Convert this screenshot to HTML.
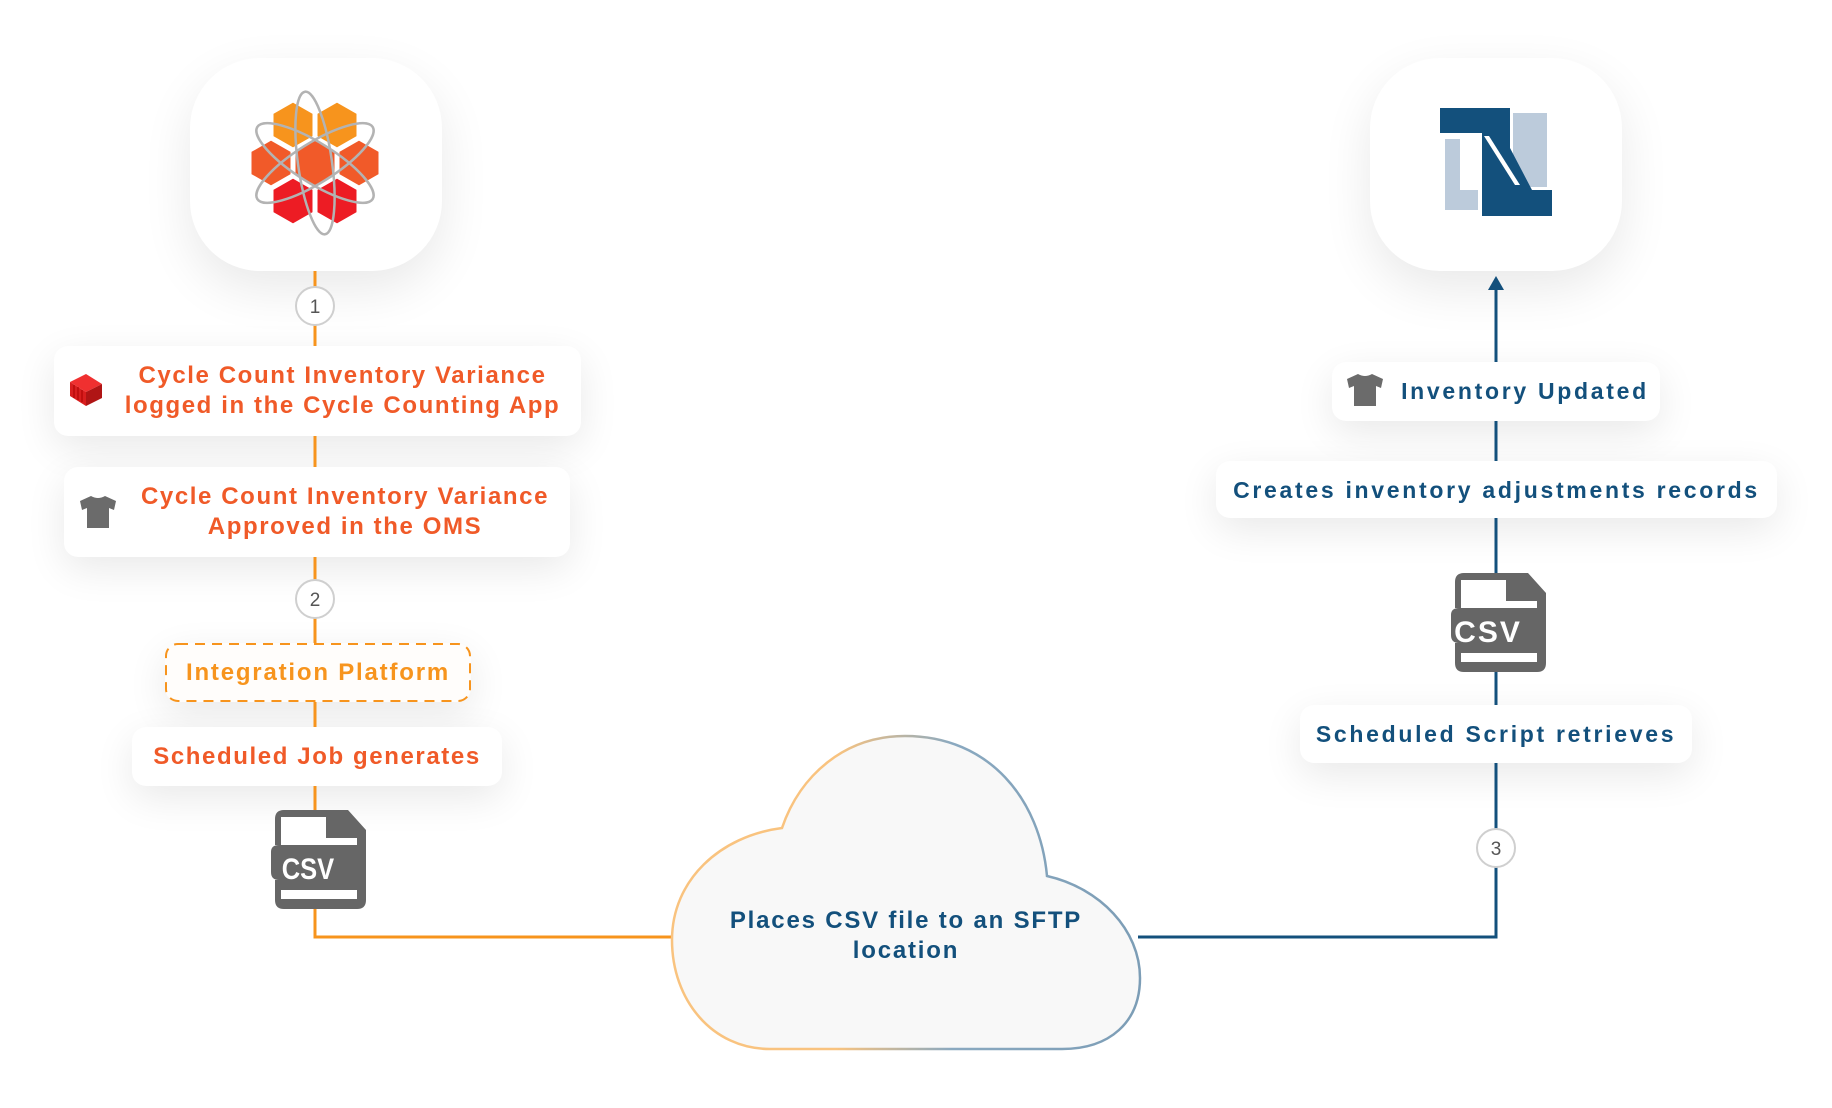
<!DOCTYPE html>
<html><head><meta charset="utf-8"><style>
html,body{margin:0;padding:0;background:#fff;}
body{width:1832px;height:1108px;position:relative;overflow:hidden;font-family:"Liberation Sans",Arial,sans-serif;}
.box{position:absolute;background:#fff;border-radius:14px;box-shadow:0 12px 40px rgba(0,0,0,0.09);}
.logo{position:absolute;background:#fff;border-radius:70px;box-shadow:0 18px 50px rgba(0,0,0,0.09);}
.t{position:absolute;font-size:24px;letter-spacing:2px;text-align:center;line-height:30px;white-space:nowrap;}
.o{color:#f05a28;font-weight:bold;letter-spacing:1.6px;}.b{color:#13507c;font-weight:bold;font-size:23px;letter-spacing:2.7px;}
svg{position:absolute;left:0;top:0;}
</style></head><body>
<div class="logo" style="left:190px;top:58px;width:252px;height:213px;"></div>
<div class="logo" style="left:1370px;top:58px;width:252px;height:213px;"></div>
<div class="box" style="left:54px;top:346px;width:527px;height:90px;"></div>
<div class="box" style="left:64px;top:467px;width:506px;height:90px;"></div>
<div class="box" style="left:165px;top:643px;width:306px;height:59px;background:#fffdfb;"></div>
<div class="box" style="left:132px;top:727px;width:370px;height:59px;"></div>
<div class="box" style="left:1332px;top:362px;width:328px;height:59px;"></div>
<div class="box" style="left:1216px;top:461px;width:561px;height:57px;"></div>
<div class="box" style="left:1300px;top:705px;width:392px;height:58px;"></div>

<svg width="1832" height="1108" viewBox="0 0 1832 1108">
<defs><linearGradient id="cg" x1="672" y1="0" x2="1140" y2="0" gradientUnits="userSpaceOnUse">
<stop offset="0.35" stop-color="#f9c37f"/><stop offset="0.6" stop-color="#8aa9c0"/><stop offset="1" stop-color="#7c9db6"/></linearGradient></defs>
<g stroke="#f7941d" stroke-width="3" fill="none">
<line x1="315" y1="271" x2="315" y2="346"/>
<line x1="315" y1="436" x2="315" y2="467"/>
<line x1="315" y1="557" x2="315" y2="643"/>
<line x1="315" y1="702" x2="315" y2="727"/>
<polyline points="315,786 315,937 674,937"/>
</g>
<g stroke="#13507c" stroke-width="3" fill="none">
<polyline points="1138,937 1496,937 1496,763"/>
<line x1="1496" y1="705" x2="1496" y2="671"/>
<line x1="1496" y1="573" x2="1496" y2="518"/>
<line x1="1496" y1="461" x2="1496" y2="421"/>
<line x1="1496" y1="362" x2="1496" y2="285"/>
</g>
<polygon points="1488,290 1504,290 1496,276" fill="#13507c"/>
<g fill="#fff" stroke="#cfcfcf" stroke-width="2">
<circle cx="315" cy="306" r="19"/><circle cx="315" cy="599" r="19"/><circle cx="1496" cy="848" r="19"/>
</g>
<g font-family="Liberation Sans,Arial,sans-serif" font-size="19" fill="#555" text-anchor="middle">
<text x="315" y="313">1</text><text x="315" y="606">2</text><text x="1496" y="855">3</text></g>
<rect x="166" y="644" width="304" height="57" rx="12" fill="none" stroke="#f7941d" stroke-width="2" stroke-dasharray="10,7"/>
<path d="M782 828 C800 775 845 736 905 736 C990 736 1040 800 1047 876 C1100 888 1140 930 1140 978 C1140 1022 1110 1049 1062 1049 L770 1049 C712 1049 672 1000 672 940 C672 880 720 836 782 828 Z" fill="#f8f8f8" stroke="url(#cg)" stroke-width="2.5"/>
<g transform="translate(315,163)">
<g stroke="#fff" stroke-width="3">
<polygon fill="#f7941d" points="-22,-62 -1,-50 -1,-26 -22,-14 -43,-26 -43,-50"/>
<polygon fill="#f7941d" points="22,-62 43,-50 43,-26 22,-14 1,-26 1,-50"/>
<polygon fill="#f15a29" points="-44,-24 -23,-12 -23,12 -44,24 -65,12 -65,-12"/>
<polygon fill="#f15a29" points="0,-24 21,-12 21,12 0,24 -21,12 -21,-12"/>
<polygon fill="#f15a29" points="44,-24 65,-12 65,12 44,24 23,12 23,-12"/>
<polygon fill="#ed1c24" points="-22,14 -1,26 -1,50 -22,62 -43,50 -43,26"/>
<polygon fill="#ed1c24" points="22,14 43,26 43,50 22,62 1,50 1,26"/>
</g>
<g fill="none" stroke="#b3b3b3" stroke-width="2.5">
<ellipse rx="17" ry="72" transform="rotate(-8)"/>
<ellipse rx="68" ry="20" transform="rotate(32)"/>
<ellipse rx="68" ry="20" transform="rotate(-32)"/>
</g></g>
<g>
<polygon fill="#bccbdb" points="1445,139 1460,139 1460,190 1478,190 1478,210 1445,210"/>
<rect x="1513" y="113" width="34" height="74" fill="#bccbdb"/>
<polygon fill="#13507c" points="1440,108 1510,108 1510,148 1532,190 1552,190 1552,216 1482,216 1482,133 1440,133"/>
<polygon fill="#fff" points="1484,136 1489,136 1520,185 1515,185"/>
</g>
<g>
<path d="M284,810 L348,810 L366,830 L366,900 Q366,909 357,909 L284,909 Q275,909 275,900 L275,880 L279,880 Q271,880 271,872 L271,852 Q271,845 279,845 L275,845 L275,819 Q275,810 284,810 Z" fill="#666"/>
<path d="M281,817 L326,817 L326,838 L357,838 L357,845 L281,845 Z" fill="#fff"/>
<rect x="281" y="890" width="76" height="9" fill="#fff"/>
<text x="308" y="879" font-family="Liberation Sans,Arial,sans-serif" font-weight="bold" font-size="30" fill="#fff" text-anchor="middle" transform="translate(308,0) scale(0.85,1) translate(-308,0)">CSV</text>
</g>
<g transform="translate(1180,-237)">
<path d="M284,810 L348,810 L366,830 L366,900 Q366,909 357,909 L284,909 Q275,909 275,900 L275,880 L279,880 Q271,880 271,872 L271,852 Q271,845 279,845 L275,845 L275,819 Q275,810 284,810 Z" fill="#666"/>
<path d="M281,817 L326,817 L326,838 L357,838 L357,845 L281,845 Z" fill="#fff"/>
<rect x="281" y="890" width="76" height="9" fill="#fff"/>
<text x="308" y="879" font-family="Liberation Sans,Arial,sans-serif" font-weight="bold" font-size="30" fill="#fff" text-anchor="middle" letter-spacing="2">CSV</text>
</g>
<g transform="translate(86,390)">
<polygon points="-16,-8 0,-16 16,-6 0,2" fill="#f03030"/>
<polygon points="-16,-8 0,2 0,16 -16,6" fill="#d81e1e"/>
<polygon points="0,2 16,-6 16,8 0,16" fill="#b01515"/>
<g stroke="#a00" stroke-width="1"><line x1="-12" y1="-5" x2="-12" y2="8"/><line x1="-8" y1="-3" x2="-8" y2="10"/><line x1="-4" y1="0" x2="-4" y2="12"/></g>
</g>
<g fill="#6b6b6b">
<path transform="translate(98,512)" d="M-7,-16 Q0,-12 7,-16 L18,-11 L16,-2 L11,-4 L11,16 L-11,16 L-11,-4 L-16,-2 L-18,-11 Z"/>
<path transform="translate(1365,390)" d="M-7,-16 Q0,-12 7,-16 L18,-11 L16,-2 L11,-4 L11,16 L-11,16 L-11,-4 L-16,-2 L-18,-11 Z"/>
</g>
</svg>

<div class="t o" style="left:100px;top:361px;width:485px;">Cycle Count Inventory Variance<br>logged in the Cycle Counting App</div>
<div class="t o" style="left:110px;top:482px;width:470px;">Cycle Count Inventory Variance<br>Approved in the OMS</div>
<div class="t" style="left:165px;top:658px;width:306px;color:#f7941d;font-weight:bold;letter-spacing:1.8px;">Integration Platform</div>
<div class="t o" style="left:132px;top:742px;width:370px;">Scheduled Job generates</div>
<div class="t" style="left:672px;top:906px;width:468px;color:#13507c;font-weight:bold;letter-spacing:1.8px;">Places CSV file to an SFTP<br>location</div>
<div class="t b" style="left:1385px;top:376px;width:280px;">Inventory Updated</div>
<div class="t b" style="left:1216px;top:475px;width:561px;">Creates inventory adjustments records</div>
<div class="t b" style="left:1300px;top:719px;width:392px;">Scheduled Script retrieves</div>
</body></html>
